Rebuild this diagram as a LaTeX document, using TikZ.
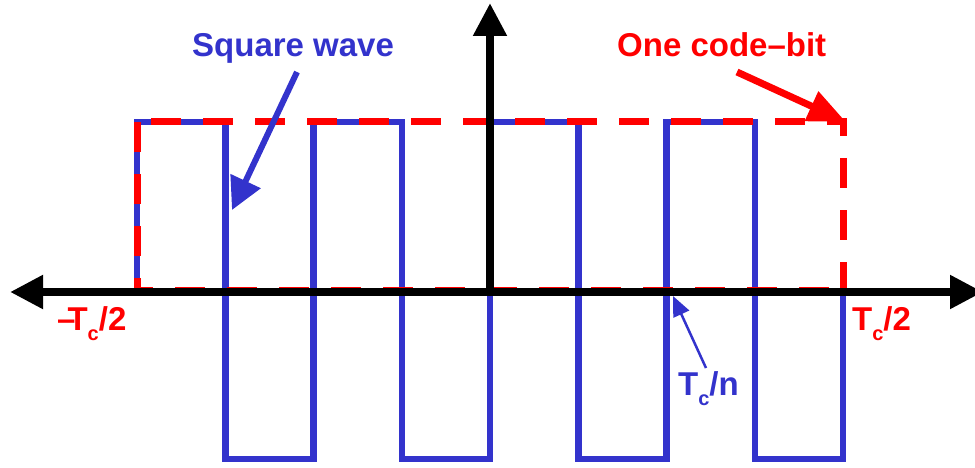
\documentclass[tikz,border=0pt]{standalone}
\usepackage{fontspec}
\setmainfont{Liberation Sans}
\usetikzlibrary{arrows.meta}
\definecolor{wblue}{RGB}{51,51,204}
\definecolor{wred}{RGB}{255,0,0}
\newcommand{\Tsub}{T\raisebox{-10pt}{\fontsize{20}{20}\selectfont c}}
\begin{document}
\begin{tikzpicture}[x=1pt,y=-1pt,
  wave/.style={wblue,line width=6.5pt},
  codebit/.style={wred,line width=7pt,dash pattern=on 30pt off 22pt},
  axis/.style={black,line width=8pt},
  lbl/.style={inner sep=0pt,anchor=base west,font=\fontsize{33}{33}\selectfont\bfseries},
]
\useasboundingbox (0,0) rectangle (975,468);

% square wave
\draw[wave] (137,292) -- (137,122) -- (225.25,122) -- (225.25,459) -- (313.5,459)
  -- (313.5,122) -- (401.75,122) -- (401.75,459) -- (490,459) -- (490,122)
  -- (578.25,122) -- (578.25,459) -- (666.5,459) -- (666.5,122) -- (754.75,122)
  -- (754.75,459) -- (843,459) -- (843,292);

% one code bit (dashed)
\draw[codebit] (137,122) -- (137,290);
\draw[codebit,dash phase=38pt] (137,122) -- (843,122) -- (843,290);
\draw[codebit,dash phase=14pt] (137,290.5) -- (843,290.5);

% axes
\coordinate (xl) at (10,292);
\coordinate (xr) at (983,292);
\coordinate (o) at (490,292);
\coordinate (yt) at (490,3);
\draw[axis,{Triangle[length=33pt,width=32pt]}-{Triangle[length=33pt,width=32pt]}] (xl) -- (xr);
\draw[axis,-{Triangle[length=33pt,width=32pt]}] (o) -- (yt);

% labels
\node[lbl,wblue] (sq) at (192,57) {Square wave};
\node[lbl,wred] (cb) at (617,57) {One code–bit};
\node[lbl,wred] (tl) at (57,330) {\textendash\kern-8pt\Tsub/2};
\node[lbl,wred] (tr) at (852,330) {\Tsub/2};
\node[lbl,wblue] (tn) at (678,395) {\Tsub/n};

% pointer arrows
\coordinate (sqs) at (297,72);
\coordinate (sqt) at (232,210);
\draw[wblue,line width=6pt,-{Triangle[length=32pt,width=32pt]}] (sqs) -- (sqt);
\coordinate (cbs) at (737,72);
\coordinate (cbt) at (846,122);
\draw[wred,line width=7pt,-{Triangle[length=38pt,width=31pt]}] (cbs) -- (cbt);
\coordinate (tns) at (706,368);
\coordinate (tnt) at (673,296);
\draw[wblue,line width=2.5pt,-{Triangle[length=20pt,width=17pt]}] (tns) -- (tnt);
\end{tikzpicture}
\end{document}
